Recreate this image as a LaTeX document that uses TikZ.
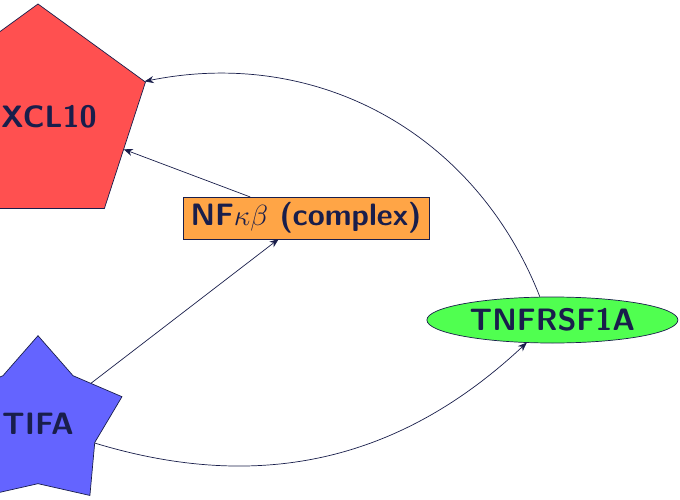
\documentclass[tikz,border=0pt]{standalone}
\usetikzlibrary{shapes.geometric,arrows.meta}
\definecolor{inkblue}{RGB}{25,30,75}
\definecolor{pentred}{RGB}{255,80,80}
\definecolor{starblue}{RGB}{100,100,255}
\definecolor{boxorange}{RGB}{255,165,70}
\definecolor{ovalgreen}{RGB}{80,255,80}
\begin{document}
\begin{tikzpicture}[inner sep=0pt,outer sep=0pt,line width=0.5pt,draw=inkblue,
>={Stealth[length=6.5pt,width=5pt]},
genetext/.style={font=\sffamily\bfseries\fontsize{22}{26}\selectfont,text=inkblue,draw=inkblue},
pentabox/.style={genetext,regular polygon,regular polygon sides=5,minimum size=5.65cm,fill=pentred},
starbox/.style={genetext,star,star points=5,star point ratio=1.48,minimum size=4.415cm,fill=starblue},
complexbox/.style={genetext,rectangle,minimum width=6.15cm,minimum height=1.05cm,fill=boxorange},
ovalbox/.style={genetext,ellipse,minimum width=6.275cm,minimum height=1.15cm,fill=ovalgreen}]
\useasboundingbox (0,0) rectangle (17,-12.5);
\draw (0.95,-2.925) node[pentabox] (C) {CXCL10};
\draw (0.95,-10.6) node[starbox] (T) {TIFA};
\draw (7.65,-5.45) node[complexbox] (N) {NF$\kappa\beta$ (complex)};
\draw (13.81,-8) node[ovalbox] (R) {TNFRSF1A};
\draw[->,inkblue] (N) -- (C);
\draw[->,inkblue] (T) -- (N);
\draw[->,inkblue] (T) to[bend right=30] (R);
\draw[->,inkblue] (R) to[bend right=40] (C);
\end{tikzpicture}
\end{document}
